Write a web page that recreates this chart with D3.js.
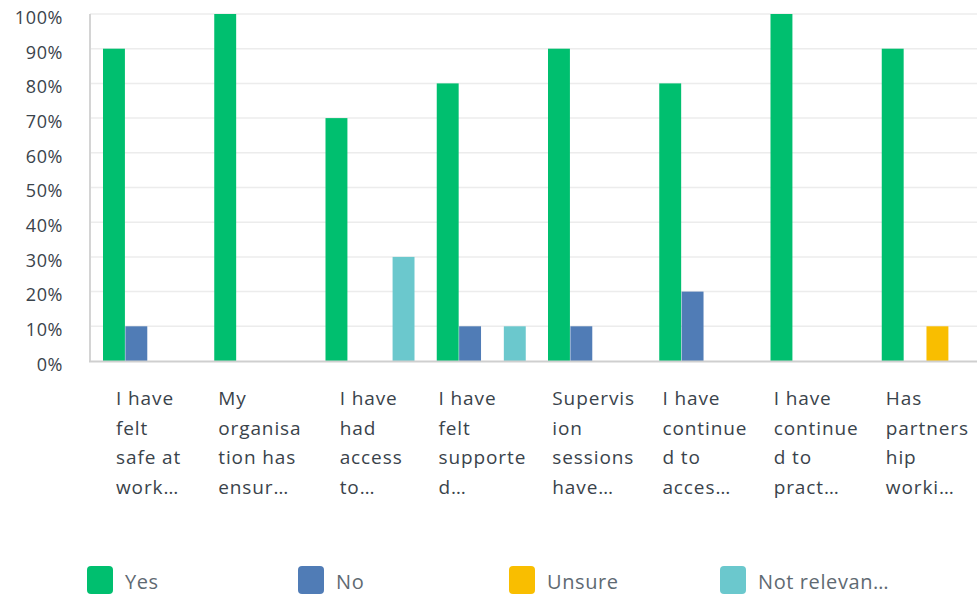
<!DOCTYPE html>
<html>
<head>
<meta charset="utf-8">
<script src="https://cdn.jsdelivr.net/npm/d3@7"></script>
<style>
  html, body { margin: 0; padding: 0; background: #fff; }
  svg { display: block; }
  text { font-family: "Open Sans", sans-serif; }
</style>
</head>
<body>
<svg id="chart" width="977" height="596"></svg>
<script>
// Answer options (series) and their colours
const seriesNames = ["Yes", "No", "Unsure", "Not relevan…"];
const seriesColors = ["#00BF6F", "#507CB6", "#F9BE00", "#6BC8CD"];

// Statement labels, already wrapped and truncated
const categoryLines = [
  ["I have", "felt", "safe at", "work…"],
  ["My", "organisa", "tion has", "ensur…"],
  ["I have", "had", "access", "to…"],
  ["I have", "felt", "supporte", "d…"],
  ["Supervis", "ion", "sessions", "have…"],
  ["I have", "continue", "d to", "acces…"],
  ["I have", "continue", "d to", "pract…"],
  ["Has", "partners", "hip", "worki…"]
];

// Percentage of respondents per statement
const yesValues          = [90, 100, 70, 80, 90, 80, 100, 90];
const noValues           = [10, 0, 0, 10, 10, 20, 0, 0];
const unsureValues       = [0, 0, 0, 0, 0, 0, 0, 10];
const notRelevantValues  = [0, 0, 30, 10, 0, 0, 0, 0];

const yTicks = [0, 10, 20, 30, 40, 50, 60, 70, 80, 90, 100];

const seriesValues = [yesValues, noValues, unsureValues, notRelevantValues];
const catIds = categoryLines.map((d, i) => i);

const svg = d3.select("#chart");
const plotLeft = 90, plotRight = 980, plotTop = 14, plotBottom = 361;

const x0 = d3.scaleBand().domain(catIds).range([plotLeft, plotRight]);
const x1 = d3.scaleBand().domain(d3.range(seriesNames.length)).range([13, 13 + 89]).paddingInner(0.02);
const y = d3.scaleLinear().domain([0, 100]).range([plotBottom, plotTop]);

// Horizontal gridlines
svg.append("g")
  .selectAll("line")
  .data(yTicks.filter(t => t > 0))
  .join("line")
  .attr("x1", plotLeft).attr("x2", 977)
  .attr("y1", d => y(d)).attr("y2", d => y(d))
  .attr("stroke", "#ececec").attr("stroke-width", 1.5);

// Y axis labels
const yAxis = svg.append("g")
  .attr("transform", `translate(${plotLeft},0)`)
  .call(d3.axisLeft(y).tickValues(yTicks).tickFormat(d => d + "%").tickSize(0).tickPadding(27));
yAxis.select(".domain").remove();
yAxis.selectAll("text")
  .attr("dy", "0.52em")
  .style("font-family", "'Open Sans', sans-serif")
  .style("font-size", "18px")
  .style("letter-spacing", "0.6px")
  .attr("fill", "#3a434b");

// Bars
const groups = svg.append("g")
  .selectAll("g")
  .data(catIds)
  .join("g")
  .attr("transform", d => `translate(${x0(d)},0)`);

groups.selectAll("rect")
  .data(ci => seriesValues.map((vals, si) => ({ si, v: vals[ci] })).filter(d => d.v > 0))
  .join("rect")
  .attr("x", d => x1(d.si))
  .attr("width", x1.bandwidth())
  .attr("y", d => y(d.v))
  .attr("height", d => y(0) - y(d.v))
  .attr("fill", d => seriesColors[d.si]);

// Axis lines
svg.append("line")
  .attr("x1", plotLeft).attr("x2", plotLeft).attr("y1", plotTop).attr("y2", plotBottom + 1)
  .attr("stroke", "#d4d4d4").attr("stroke-width", 2);
svg.append("line")
  .attr("x1", plotLeft - 1).attr("x2", 977).attr("y1", plotBottom + 0.5).attr("y2", plotBottom + 0.5)
  .attr("stroke", "#cfcfcf").attr("stroke-width", 2);

// Category labels: left-aligned blocks centred under each group
const labelG = svg.append("g");
catIds.forEach(ci => {
  const t = labelG.append("text")
    .attr("fill", "#3a434b")
    .style("font-size", "19px")
    .style("letter-spacing", "0.9px");
  categoryLines[ci].forEach((line, li) => {
    t.append("tspan").attr("x", 0).attr("y", 405 + li * 29.5).text(line);
  });
  const w = t.node().getBBox().width;
  const cx = x0(ci) + x0.bandwidth() / 2 + 3;
  t.attr("transform", `translate(${cx - w / 2},0)`);
});

// Legend
const legendX = d3.scaleLinear().domain([0, 1]).range([87, 298]);
const legend = svg.append("g")
  .selectAll("g")
  .data(seriesNames)
  .join("g")
  .attr("transform", (d, i) => `translate(${legendX(i)},566)`);
legend.append("rect")
  .attr("width", 26).attr("height", 28).attr("rx", 4)
  .attr("fill", (d, i) => seriesColors[i]);
legend.append("text")
  .attr("x", 38).attr("y", 23)
  .attr("fill", "#5f6a72")
  .style("font-size", "20px")
  .style("letter-spacing", "0.6px")
  .text(d => d);
</script>
</body>
</html>
